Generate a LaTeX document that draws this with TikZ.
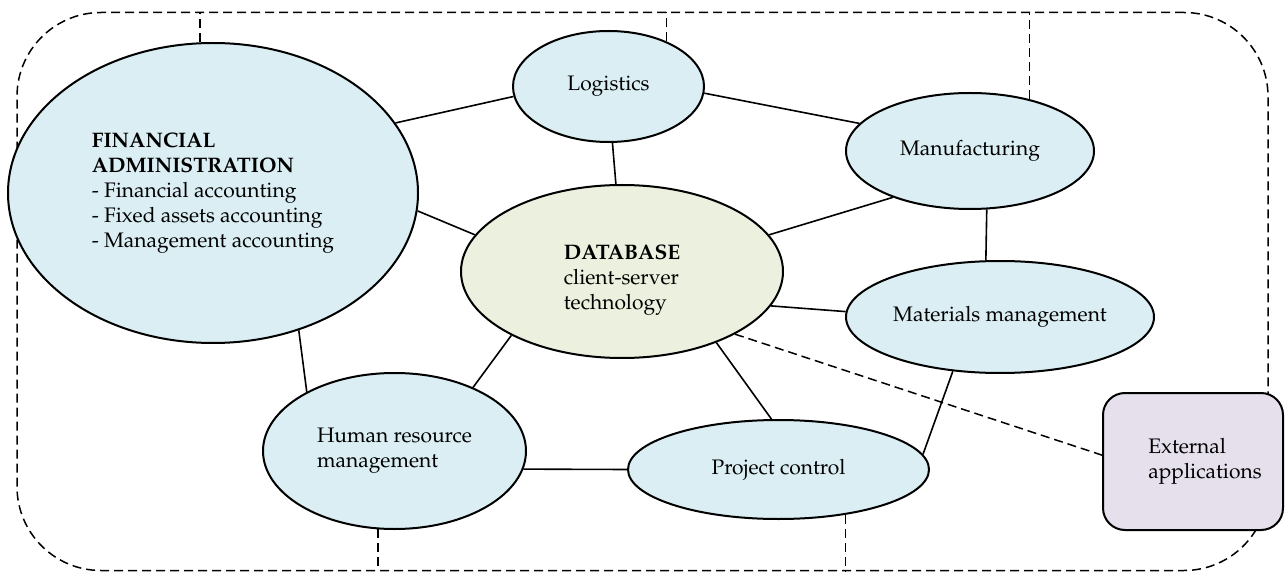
\documentclass[tikz,border=0pt]{standalone}
\usepackage[T1]{fontenc}
\usepackage{mathpazo}
\usetikzlibrary{shapes.geometric,calc}
\definecolor{modfill}{HTML}{DAEEF3}
\definecolor{dbfill}{HTML}{EBF1DE}
\definecolor{extfill}{HTML}{E5E0EC}
\tikzset{
  module/.style={draw,ellipse,line width=1pt,fill=modfill,inner sep=0pt},
  link/.style={line width=0.8pt},
  dashlink/.style={line width=0.75pt,dash pattern=on 4.5pt off 2.5pt}}

\begin{document}
\begin{tikzpicture}[x=0.5pt,y=-0.5pt,font=\fontsize{10.5}{12.5}\selectfont]
\useasboundingbox (0,0) rectangle (1285,572);
% system boundary
\node[draw,dashlink,rounded corners=42pt] (frame)
  [minimum width=625.5pt,minimum height=279pt] at (642.5,291.5) {};
% modules
\node[module,align=left] (fa)
  [minimum width=205pt,minimum height=150pt] at (213,193)
  {\textbf{FINANCIAL}\\\textbf{ADMINISTRATION}\\- Financial accounting\\
   - Fixed assets accounting\\- Management accounting};
\node[module] (log)
  [minimum width=95.5pt,minimum height=55.5pt] at (608.5,86.5) {Logistics};
\node[module] (man)
  [minimum width=124pt,minimum height=58pt] at (970,151) {Manufacturing};
\node[module] (mat)
  [minimum width=154pt,minimum height=56pt] at (1000,317) {Materials management};
\node[module] (pc)
  [minimum width=150.5pt,minimum height=49.5pt] at (778.5,469.5) {Project control};
\node[module,align=left] (hr)
  [minimum width=131.5pt,minimum height=78pt] at (394.5,451)
  {Human resource\\management\\[-9.5pt]};
\node[module,fill=dbfill,align=left] (db)
  [minimum width=161pt,minimum height=86.5pt] at (622,271.5)
  {\\[3.5pt]\textbf{DATABASE}\\client-server\\technology};
\node[draw,line width=1pt,fill=extfill,rounded corners=11pt,align=left] (ext)
  [minimum width=90pt,minimum height=68.5pt] at (1193,461.5)
  {\hspace*{12pt}External\\\hspace*{12pt}applications};
% links between modules
\draw[link] (fa.21) -- (log.186);
\draw[link] (log.-4) -- (man.166);
\draw[link] (log.-86) -- (db.94);
\draw[link] (fa.-5) -- (db.166);
\draw[link] (db.14) -- (man.211);
\draw[link] (man.-74) -- (mat.104);
\draw[link] (db.-13) -- (mat.178);
\draw[link] (db.-37) -- (pc.98);
\draw[link] (db.210) -- (hr.39);
\draw[link] (fa.-58) -- (hr.146);
\draw[link] (hr.-8) -- (pc.west);
\draw[link] (pc.6) -- (mat.229);
\draw[dashlink] (db.-29) -- (ext.176);
% ties to the boundary
\draw[dashlink] (fa.95) -- (fa.95 |- frame.north);
\draw[dashlink] (log.38) -- (log.38 |- frame.north);
\draw[dashlink] (man.41) -- (man.41 |- frame.north);
\draw[dashlink] (hr.258) -- (hr.258 |- frame.south);
\draw[dashlink] (pc.-34) -- (pc.-34 |- frame.south);
\end{tikzpicture}
\end{document}
